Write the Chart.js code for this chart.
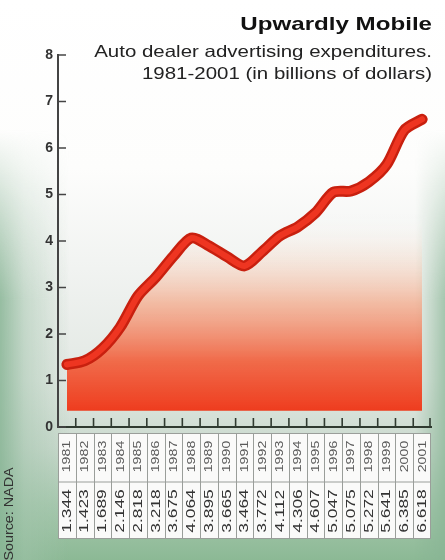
<!DOCTYPE html>
<html><head><meta charset="utf-8">
<script src="https://cdn.jsdelivr.net/npm/chart.js@4.4.0/dist/chart.umd.min.js"></script>
<style>
html,body{margin:0;padding:0;}
body{width:445px;height:560px;overflow:hidden;
background: linear-gradient(to bottom, #ffffff 0%, #fdfdfc 30%, #f1f3f1 48%, #e2e8e3 68%, #c9d9cd 80%, #a7c8ae 90%, #8cb995 100%);}
#wrap{position:relative;width:445px;height:560px;}
.strip{position:absolute;top:0;height:560px;
 -webkit-mask-image:linear-gradient(to bottom, rgba(0,0,0,0) 0px, rgba(0,0,0,0) 130px, rgba(0,0,0,1) 300px);
 mask-image:linear-gradient(to bottom, rgba(0,0,0,0) 0px, rgba(0,0,0,0) 130px, rgba(0,0,0,1) 300px);}
#ls{left:0;width:70px;background:linear-gradient(to right, rgba(135,180,148,0.85) 0px, rgba(160,195,170,0.5) 25px, rgba(200,215,205,0) 70px);}
#rs{right:0;width:30px;background:linear-gradient(to left, rgba(135,180,148,0.7) 0px, rgba(200,215,205,0) 30px);}
canvas{position:absolute;left:0;top:0;}
</style></head><body><div id="wrap"><div class="strip" id="ls"></div><div class="strip" id="rs"></div><canvas id="c"></canvas></div>
<script>
const years = ['1981','1982','1983','1984','1985','1986','1987','1988','1989','1990','1991','1992','1993','1994','1995','1996','1997','1998','1999','2000','2001'];
const spending = [1.344,1.423,1.689,2.146,2.818,3.218,3.675,4.064,3.895,3.665,3.464,3.772,4.112,4.306,4.607,5.047,5.075,5.272,5.641,6.385,6.618];
const yTicks = [0,1,2,3,4,5,6,7,8];
const titleText = 'Upwardly Mobile';
const subtitleLines = ['Auto dealer advertising expenditures.', '1981-2001 (in billions of dollars)'];
const sourceText = 'Source: NADA';
const fillBase = 0.35;
const FONT = '"Liberation Sans", Arial, sans-serif';

function stretchText(ctx, text, x, y, sx, sy) {
  ctx.save(); ctx.translate(x, y); ctx.scale(sx, sy); ctx.fillText(text, 0, 0); ctx.restore();
}

const decor = {
  id: 'decor',
  afterDatasetsDraw(chart) {
    const ctx = chart.ctx, xs = chart.scales.x, ys = chart.scales.y;
    ctx.save();
    ctx.strokeStyle = '#444'; ctx.lineWidth = 1.5;
    yTicks.forEach(v => {
      const y = ys.getPixelForValue(v);
      ctx.beginPath(); ctx.moveTo(xs.left, y); ctx.lineTo(xs.left + 8, y); ctx.stroke();
    });
    const bottom = xs.top;
    ctx.strokeStyle = '#2f3a30'; ctx.lineWidth = 1.6;
    for (let i = 1; i <= years.length; i++) {
      const bx = i < years.length ? (xs.getPixelForValue(i - 1) + xs.getPixelForValue(i)) / 2 : xs.right - 1;
      ctx.beginPath(); ctx.moveTo(bx, bottom); ctx.lineTo(bx, bottom - 9); ctx.stroke();
    }
    ctx.restore();
  },
  afterDraw(chart) {
    const ctx = chart.ctx, xs = chart.scales.x;
    ctx.save();
    const top = xs.top + 6, mid = top + 49, bot = top + 105;
    const left = xs.left, right = xs.right;
    ctx.fillStyle = '#fafaf9';
    ctx.fillRect(left, top, right - left, bot - top);
    ctx.strokeStyle = '#9a9e9a'; ctx.lineWidth = 1;
    ctx.strokeRect(left + 0.5, top + 0.5, right - left - 1, bot - top);
    ctx.beginPath(); ctx.moveTo(left, mid); ctx.lineTo(right, mid); ctx.stroke();
    for (let i = 1; i < years.length; i++) {
      const bx = Math.round((xs.getPixelForValue(i - 1) + xs.getPixelForValue(i)) / 2) + 0.5;
      ctx.beginPath(); ctx.moveTo(bx, top); ctx.lineTo(bx, bot); ctx.stroke();
    }
    ctx.textAlign = 'center'; ctx.textBaseline = 'middle';
    years.forEach((yr, i) => {
      const cx = xs.getPixelForValue(i);
      ctx.save(); ctx.translate(cx + 0.5, (top + mid) / 2 - 1); ctx.rotate(-Math.PI / 2); ctx.scale(1.35, 1);
      ctx.fillStyle = '#5a5a5a'; ctx.font = '10.5px ' + FONT;
      ctx.fillText(yr, 0, 0); ctx.restore();
      ctx.save(); ctx.translate(cx + 0.5, (mid + bot) / 2 + 1); ctx.rotate(-Math.PI / 2); ctx.scale(1.45, 1);
      ctx.fillStyle = '#333'; ctx.font = '12px ' + FONT;
      ctx.fillText(spending[i].toFixed(3), 0, 0); ctx.restore();
    });
    ctx.textAlign = 'right'; ctx.textBaseline = 'alphabetic'; ctx.fillStyle = '#111';
    ctx.font = 'bold 19px ' + FONT;
    stretchText(ctx, titleText, 432, 30, 1.27, 1);
    ctx.fillStyle = '#222';
    ctx.font = '16.5px ' + FONT;
    stretchText(ctx, subtitleLines[0], 432, 57, 1.24, 1);
    stretchText(ctx, subtitleLines[1], 432, 79, 1.24, 1);
    ctx.save(); ctx.translate(9, 514); ctx.rotate(-Math.PI / 2); ctx.scale(1.1, 1);
    ctx.textAlign = 'center'; ctx.textBaseline = 'middle';
    ctx.fillStyle = '#333'; ctx.font = '13px ' + FONT;
    ctx.fillText(sourceText, 0, 0); ctx.restore();
    ctx.restore();
  }
};

new Chart(document.getElementById('c'), {
  type: 'line',
  data: {
    labels: years,
    datasets: [{
      data: spending,
      borderColor: '#c8200f',
      borderWidth: 11,
      borderCapStyle: 'round',
      borderJoinStyle: 'round',
      tension: 0.28,
      pointRadius: 0,
      order: 2,
      fill: { value: fillBase },
      backgroundColor(context) {
        const ch = context.chart, area = ch.chartArea;
        if (!area) return 'rgba(240,80,40,0.5)';
        const ys = ch.scales.y;
        const g = ch.ctx.createLinearGradient(0, ys.getPixelForValue(fillBase), 0, ys.getPixelForValue(4.6));
        g.addColorStop(0, 'rgba(238,60,30,1)');
        g.addColorStop(0.25, 'rgba(241,95,60,0.92)');
        g.addColorStop(0.55, 'rgba(245,160,125,0.65)');
        g.addColorStop(0.8, 'rgba(250,215,195,0.3)');
        g.addColorStop(1, 'rgba(255,255,255,0)');
        return g;
      }
    }, {
      data: spending,
      borderColor: '#ee3521',
      borderWidth: 6,
      borderCapStyle: 'round',
      borderJoinStyle: 'round',
      tension: 0.28,
      pointRadius: 0,
      order: 1,
      fill: false
    }]
  },
  options: {
    responsive: true,
    maintainAspectRatio: false,
    animation: false,
    layout: { padding: { top: 55, right: 14, bottom: 133, left: 0 } },
    plugins: { legend: { display: false }, tooltip: { enabled: false }, title: { display: false } },
    scales: {
      x: {
        type: 'category', offset: true,
        ticks: { display: false },
        grid: { display: false, drawTicks: false },
        border: { display: true, color: '#2f3a30', width: 2 }
      },
      y: {
        min: 0, max: 8,
        ticks: { stepSize: 1, color: '#333', padding: 5, font: { size: 14, weight: 'bold', family: FONT } },
        grid: { display: false, drawTicks: false },
        border: { display: true, color: '#444', width: 2 },
        afterFit(s) { s.width = 58; }
      }
    }
  },
  plugins: [decor]
});
</script></body></html>
